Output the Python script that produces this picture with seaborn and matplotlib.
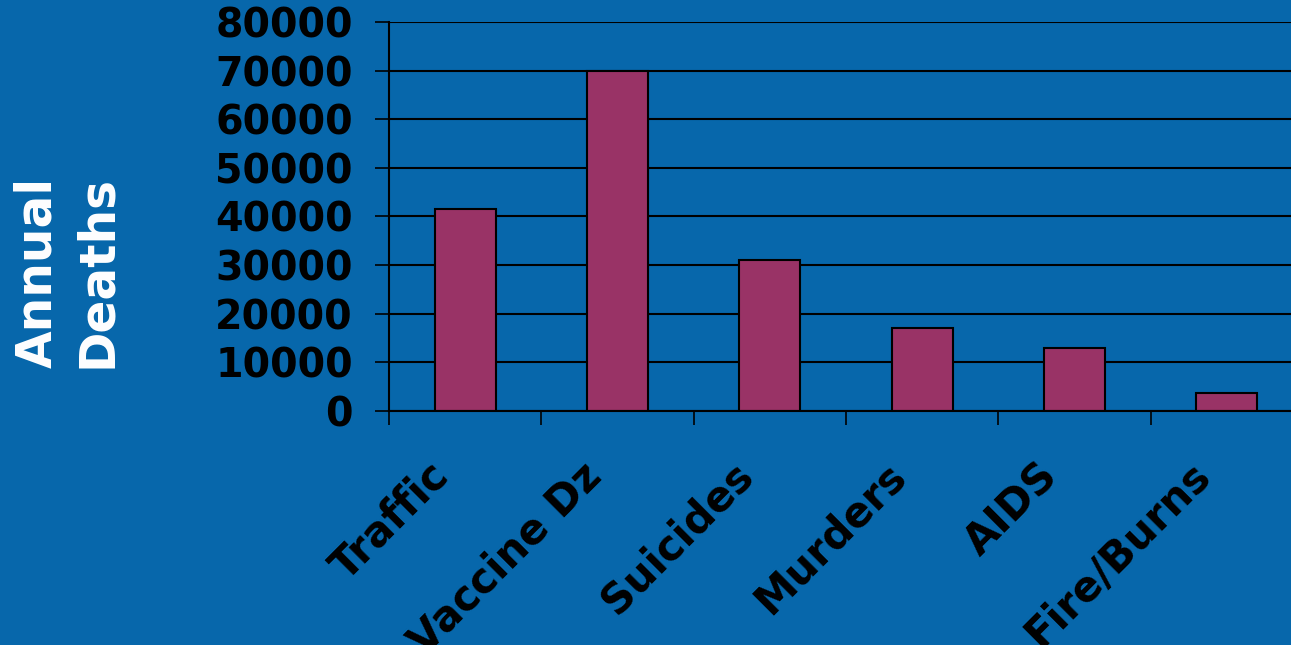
import numpy as np
import matplotlib
matplotlib.use("Agg")
import matplotlib.pyplot as plt
import matplotlib.transforms as mtransforms
import seaborn as sns

categories = ["Traffic", "Vaccine Dz", "Suicides", "Murders", "AIDS", "Fire/Burns"]
deaths = [41500, 70000, 31000, 17000, 13000, 3700]
yticks = [0, 10000, 20000, 30000, 40000, 50000, 60000, 70000, 80000]

BG = "#0767AB"
BAR = "#993366"

sns.set_style("white")
plt.rcParams["font.family"] = ["DejaVu Sans"]

fig = plt.figure(figsize=(12.91, 6.45), dpi=100, facecolor=BG)
ax = fig.add_axes([389/1291, 1-411/645, 914/1291, 389/645])
ax.set_facecolor(BG)

sns.barplot(x=categories, y=deaths, color=BAR, edgecolor="black", linewidth=1.5,
            width=0.4, saturation=1, ax=ax)

ax.set_ylim(0, 80000)
ax.set_xlim(-0.5, len(categories) - 0.5)
ax.set_yticks(yticks)
ax.set_yticklabels([str(v) for v in yticks], fontsize=28.5, fontweight="bold", color="black")
ax.yaxis.grid(True, color="black", linewidth=1.5)
ax.set_axisbelow(True)
ax.tick_params(axis="y", length=10, width=1.2, color="black", pad=16, direction="out", left=True)

ax.set_xticks(np.arange(len(categories)))
ax.set_xticklabels(categories, fontsize=30, fontweight="bold", rotation=45,
                   ha="right", va="center", rotation_mode="anchor", color="black")
ax.tick_params(axis="x", which="major", length=0, pad=42, labelcolor="black")
ax.set_xticks(np.arange(-0.5, len(categories), 1), minor=True)
ax.tick_params(axis="x", which="minor", length=10, width=1.2, color="black", bottom=True)

shift = mtransforms.ScaledTranslation(-23/100, 0, fig.dpi_scale_trans)
for lab in ax.get_xticklabels():
    lab.set_transform(lab.get_transform() + shift)

for s in ["top", "right"]:
    ax.spines[s].set_visible(False)
ax.spines["left"].set_color("black")
ax.spines["left"].set_linewidth(1.5)
ax.spines["bottom"].set_color("black")
ax.spines["bottom"].set_linewidth(1.5)
ax.set_xlabel("")
ax.set_ylabel("")

fig.text(67/1291, 1-272/645, "Annual\nDeaths", rotation=90, ha="center", va="center",
         fontsize=35, fontweight="bold", color="white", linespacing=1.3)

fig.savefig("out.png", dpi=100, facecolor=BG)
